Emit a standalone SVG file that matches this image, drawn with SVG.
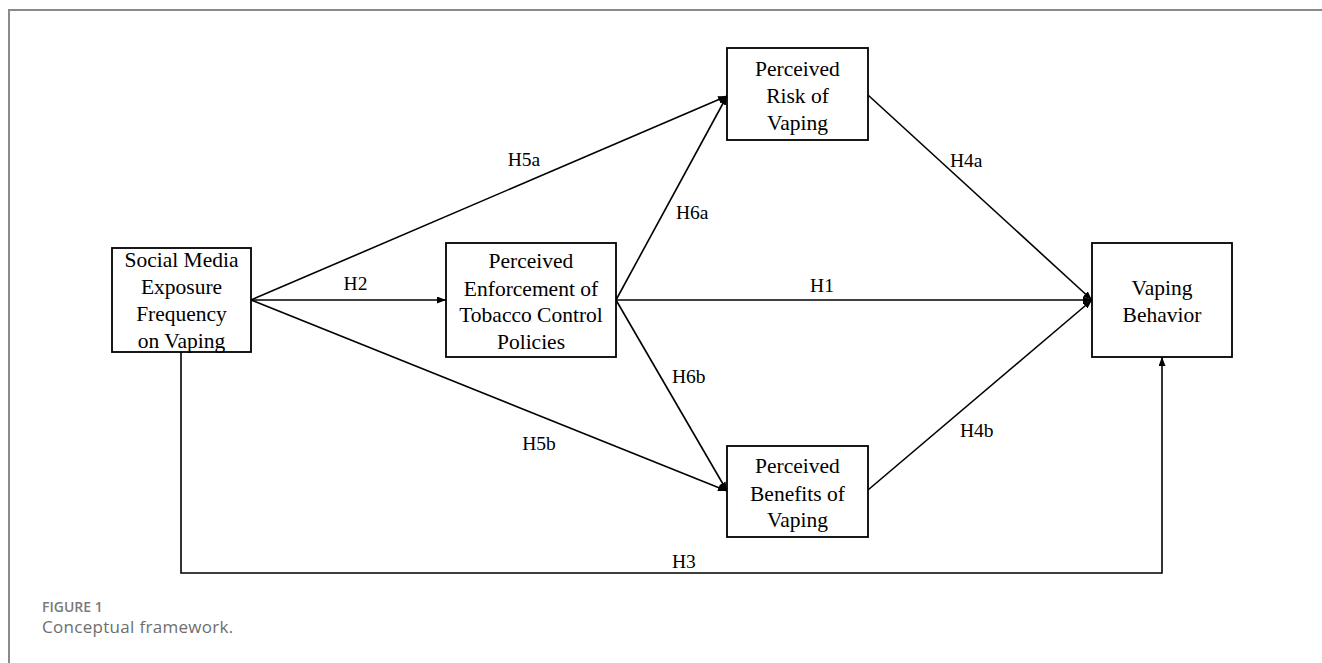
<svg xmlns="http://www.w3.org/2000/svg" width="1322" height="663" viewBox="0 0 1322 663">
<defs>
<style>
.box{fill:#fff;stroke:#000;stroke-width:1.8}
.t{font-family:"Liberation Serif","Times New Roman",serif;font-size:21.5px;fill:#000;text-anchor:middle}
.lbl{font-family:"Liberation Serif","Times New Roman",serif;font-size:19.5px;fill:#000}
.ln{fill:none;stroke:#000;stroke-width:1.6}
.frame{fill:none;stroke:#8a8a8a;stroke-width:2}
.caph{font-family:"Open Sans","Noto Sans",sans-serif;font-size:14px;font-weight:600;fill:#7a7a7a}
.capt{font-family:"Open Sans","Noto Sans",sans-serif;font-size:17px;font-weight:400;fill:#6e6e6e;letter-spacing:0.3px}
</style>
<marker id="ah" markerUnits="userSpaceOnUse" markerWidth="9" markerHeight="7" refX="9" refY="3.5" orient="auto">
<path d="M0,0 L9,3.5 L0,7 z" fill="#000"/>
</marker>
</defs>
<rect width="1322" height="663" fill="#fff"/>
<path class="frame" d="M9,663 L9,10 L1322,10"/>

<g id="connectors">
<line class="ln" x1="251" y1="300" x2="446" y2="300" marker-end="url(#ah)"/>
<line class="ln" x1="251" y1="300" x2="727" y2="96" marker-end="url(#ah)"/>
<line class="ln" x1="251" y1="300" x2="727" y2="491" marker-end="url(#ah)"/>
<line class="ln" x1="616" y1="300" x2="727" y2="96" marker-end="url(#ah)"/>
<line class="ln" x1="616" y1="300" x2="727" y2="491" marker-end="url(#ah)"/>
<line class="ln" x1="616" y1="300" x2="1092" y2="300" marker-end="url(#ah)"/>
<line class="ln" x1="868" y1="95" x2="1092" y2="300" marker-end="url(#ah)"/>
<line class="ln" x1="868" y1="490" x2="1092" y2="300" marker-end="url(#ah)"/>
<polyline class="ln" points="181,352 181,573 1162,573 1162,357" marker-end="url(#ah)"/>
<text class="lbl" x="355.5" y="290" text-anchor="middle">H2</text>
<text class="lbl" x="524" y="166" text-anchor="middle">H5a</text>
<text class="lbl" x="539" y="450" text-anchor="middle">H5b</text>
<text class="lbl" x="676" y="219">H6a</text>
<text class="lbl" x="672" y="383">H6b</text>
<text class="lbl" x="822" y="292" text-anchor="middle">H1</text>
<text class="lbl" x="950" y="167">H4a</text>
<text class="lbl" x="960" y="437">H4b</text>
<text class="lbl" x="672" y="568">H3</text>
</g>

<g id="social">
<rect class="box" x="112" y="248" width="139" height="104"/>
<text class="t" x="181.5" y="267">Social Media</text>
<text class="t" x="181.5" y="294">Exposure</text>
<text class="t" x="181.5" y="321">Frequency</text>
<text class="t" x="181.5" y="348">on Vaping</text>
</g>

<g id="enforcement">
<rect class="box" x="446" y="243" width="170" height="114"/>
<text class="t" x="531" y="268">Perceived</text>
<text class="t" x="531" y="295.5">Enforcement of</text>
<text class="t" x="531" y="322">Tobacco Control</text>
<text class="t" x="531" y="349">Policies</text>
</g>

<g id="risk">
<rect class="box" x="727" y="48" width="141" height="92"/>
<text class="t" x="797.5" y="76">Perceived</text>
<text class="t" x="797.5" y="103">Risk of</text>
<text class="t" x="797.5" y="129.5">Vaping</text>
</g>

<g id="benefits">
<rect class="box" x="727" y="446" width="141" height="91"/>
<text class="t" x="797.5" y="473">Perceived</text>
<text class="t" x="797.5" y="500.5">Benefits of</text>
<text class="t" x="797.5" y="527">Vaping</text>
</g>

<g id="behavior">
<rect class="box" x="1092" y="243" width="140" height="114"/>
<text class="t" x="1162" y="295">Vaping</text>
<text class="t" x="1162" y="322">Behavior</text>
</g>

<g id="caption">
<text class="caph" x="42" y="612">FIGURE 1</text>
<text class="capt" x="42" y="633">Conceptual framework.</text>
</g>
</svg>
